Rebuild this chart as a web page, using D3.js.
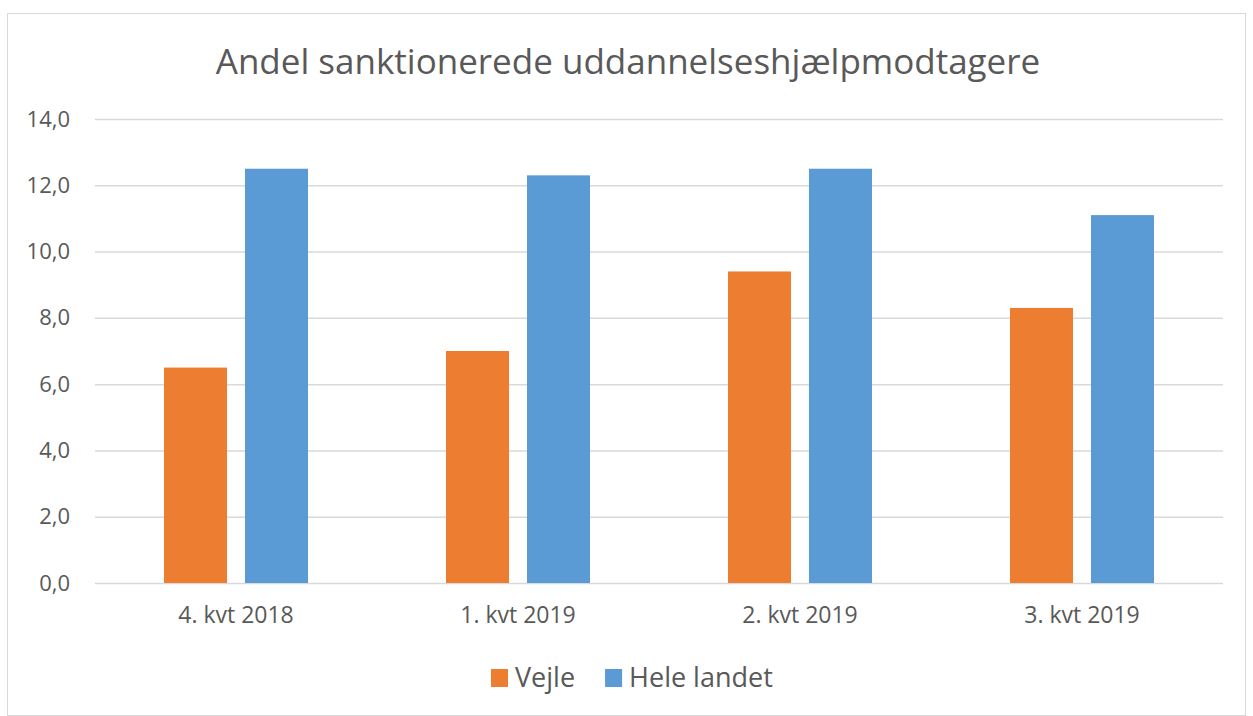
<!DOCTYPE html>
<html>
<head>
<meta charset="utf-8">
<script src="https://cdn.jsdelivr.net/npm/d3@7"></script>
<style>
  body { margin: 0; background: #fff; }
  text { font-family: "Open Sans", sans-serif; fill: #595959; }
</style>
</head>
<body>
<div id="chart"></div>
<script>
var title = "Andel sanktionerede uddannelseshjælpmodtagere";
var categories = ["4. kvt 2018", "1. kvt 2019", "2. kvt 2019", "3. kvt 2019"];
var series = ["Vejle", "Hele landet"];
var vejle = [6.5, 7.0, 9.4, 8.3];
var heleLandet = [12.5, 12.3, 12.5, 11.1];
var yTicks = [0, 2, 4, 6, 8, 10, 12, 14];
var colors = ["#ED7D31", "#5B9BD5"];

var W = 1253, H = 716;
var margin = {top: 119, right: 30, bottom: 133, left: 95},
    width = W - margin.left - margin.right,
    height = H - margin.top - margin.bottom;

var svg = d3.select("#chart").append("svg")
    .attr("width", W)
    .attr("height", H);

// chart frame
svg.append("rect")
    .attr("x", 7.5).attr("y", 13.5)
    .attr("width", 1238).attr("height", 702)
    .attr("fill", "#fff")
    .attr("stroke", "#d9d9d9");

svg.append("text")
    .attr("x", 628)
    .attr("y", 74)
    .attr("text-anchor", "middle")
    .style("font-size", "35px")
    .text(title);

var g = svg.append("g")
    .attr("transform", "translate(" + margin.left + "," + margin.top + ")");

var x0 = d3.scaleBand()
    .domain(categories)
    .range([0, width]);

var x1 = d3.scaleBand()
    .domain(series)
    .range([0, x0.bandwidth()])
    .paddingInner(0.222)
    .paddingOuter(0.852);

var y = d3.scaleLinear()
    .domain([0, 14])
    .range([height, 0]);

var yAxis = g.append("g")
    .call(d3.axisLeft(y)
	  .tickValues(yTicks)
	  .tickSize(-width)
	  .tickPadding(25)
	  .tickFormat(function(d) { return d.toFixed(1).replace(".", ","); }));
yAxis.select(".domain").remove();
yAxis.selectAll("line").attr("stroke", "#d9d9d9").attr("stroke-width", 1.5);
yAxis.selectAll("text")
    .style("font-size", "22px")
    .style("font-family", "Open Sans, sans-serif")
    .attr("fill", "#595959");

var rows = categories.map(function(c, i) {
    return {cat: c, vals: [vejle[i], heleLandet[i]]};
});

var groups = g.selectAll(".group")
    .data(rows).enter()
    .append("g")
    .attr("transform", function(d) { return "translate(" + x0(d.cat) + ",0)"; });

groups.selectAll("rect")
    .data(function(d) { return d.vals.map(function(v, j) { return {s: series[j], v: v, j: j}; }); })
    .enter()
    .append("rect")
    .attr("x", function(d) { return x1(d.s); })
    .attr("y", function(d) { return y(d.v); })
    .attr("width", x1.bandwidth())
    .attr("height", function(d) { return height - y(d.v); })
    .attr("fill", function(d) { return colors[d.j]; });

var xAxis = g.append("g")
    .attr("transform", "translate(0," + height + ")")
    .call(d3.axisBottom(x0).tickSize(0).tickPadding(24));
xAxis.select(".domain").remove();
xAxis.selectAll("text")
    .style("font-size", "23px")
    .style("font-family", "Open Sans, sans-serif")
    .attr("fill", "#595959");

// legend
var legend = svg.append("g");
var lx = 491, ly = 669;
var items = legend.selectAll("g")
    .data(series).enter()
    .append("g");
items.append("rect")
    .attr("width", 17).attr("height", 18)
    .attr("y", ly)
    .attr("fill", function(d, i) { return colors[i]; });
items.append("text")
    .attr("y", ly + 18)
    .attr("x", 24)
    .style("font-size", "27px")
    .text(function(d) { return d; });
var off = lx;
items.each(function() {
    var node = d3.select(this);
    node.attr("transform", "translate(" + off + ",0)");
    off += this.getBBox().width + 30;
});
</script>
</body>
</html>
